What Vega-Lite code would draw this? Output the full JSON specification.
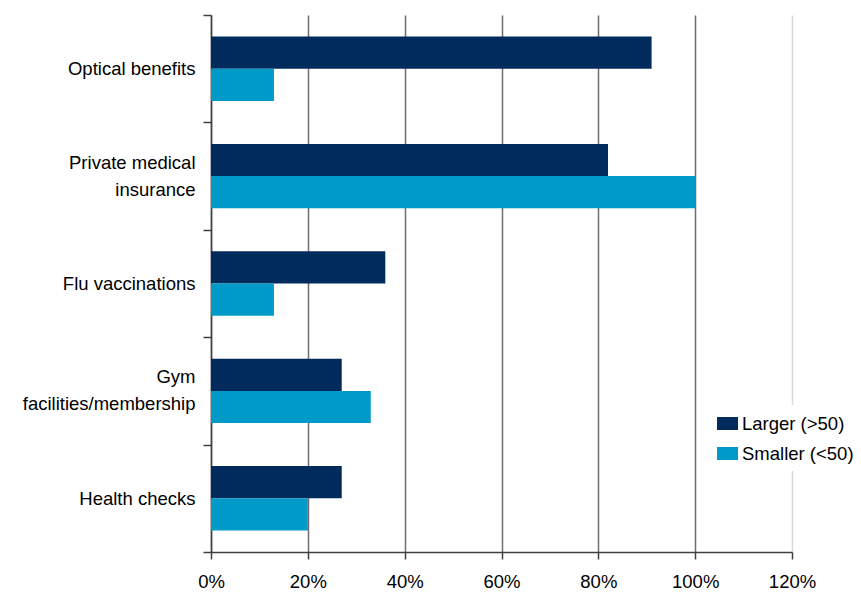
{
  "$schema": "https://vega.github.io/schema/vega-lite/v6.json",
  "autosize": {"type": "none"},
  "width": 581,
  "height": 537,
  "padding": {"left": 211, "top": 15, "right": 69, "bottom": 40},
  "background": "white",
  "config": {
    "view": {"stroke": null},
    "font": "Liberation Sans",
    "axis": {"labelFont": "Liberation Sans", "labelFontSize": 18.5, "labelColor": "#000000"},
    "legend": {"labelFont": "Liberation Sans", "labelFontSize": 18.5, "labelColor": "#000000"}
  },
  "data": {
    "values": [
      {"benefit": "Optical benefits", "group": "Larger (>50)", "share": 0.91},
      {"benefit": "Optical benefits", "group": "Smaller (<50)", "share": 0.13},
      {"benefit": "Private medical|insurance", "group": "Larger (>50)", "share": 0.82},
      {"benefit": "Private medical|insurance", "group": "Smaller (<50)", "share": 1.0},
      {"benefit": "Flu vaccinations", "group": "Larger (>50)", "share": 0.36},
      {"benefit": "Flu vaccinations", "group": "Smaller (<50)", "share": 0.13},
      {"benefit": "Gym|facilities/membership", "group": "Larger (>50)", "share": 0.27},
      {"benefit": "Gym|facilities/membership", "group": "Smaller (<50)", "share": 0.33},
      {"benefit": "Health checks", "group": "Larger (>50)", "share": 0.27},
      {"benefit": "Health checks", "group": "Smaller (<50)", "share": 0.20}
    ]
  },
  "mark": {"type": "bar"},
  "encoding": {
    "y": {
      "field": "benefit",
      "type": "nominal",
      "sort": ["Optical benefits", "Private medical|insurance", "Flu vaccinations", "Gym|facilities/membership", "Health checks"],
      "scale": {"paddingInner": 0, "paddingOuter": 0},
      "axis": {
        "title": null,
        "tickBand": "extent",
        "tickSize": 8,
        "labelPadding": 8,
        "labelExpr": "split(datum.label, '|')",
        "labelLineHeight": 27,
        "labelBaseline": {"condition": {"test": "indexof(datum.label, '|') >= 0", "value": "line-bottom"}, "value": "middle"},
        "domainColor": "#404040",
        "tickColor": "#404040",
        "domainWidth": 1.5,
        "tickWidth": 1.5,
        "grid": false,
        "labelAlign": "right"
      }
    },
    "yOffset": {
      "field": "group",
      "type": "nominal",
      "scale": {"paddingInner": 0, "paddingOuter": 0.667}
    },
    "x": {
      "field": "share",
      "type": "quantitative",
      "scale": {"domain": [0, 1.2], "nice": false},
      "axis": {
        "title": null,
        "format": ".0%",
        "values": [0, 0.2, 0.4, 0.6, 0.8, 1.0, 1.2],
        "tickSize": 7,
        "labelPadding": 13,
        "labelFlush": false,
        "domainColor": "#404040",
        "tickColor": "#404040",
        "domainWidth": 1.5,
        "tickWidth": 1.5,
        "grid": true,
        "gridColor": {"condition": {"test": "datum.value >= 1.2", "value": "#d9d9d9"}, "value": "#6e6e6e"},
        "gridWidth": 1.5
      }
    },
    "color": {
      "field": "group",
      "type": "nominal",
      "scale": {"domain": ["Larger (>50)", "Smaller (<50)"], "range": ["#002B5C", "#009AC8"]},
      "legend": {
        "title": null,
        "orient": "none",
        "legendX": 498,
        "legendY": 390,
        "padding": 8,
        "fillColor": "white",
        "symbolType": "M-1,-0.62H1V0.62H-1Z",
        "symbolSize": 441,
        "symbolStrokeWidth": 0,
        "symbolOpacity": 1,
        "labelOffset": 4,
        "rowPadding": 10
      }
    }
  }
}
